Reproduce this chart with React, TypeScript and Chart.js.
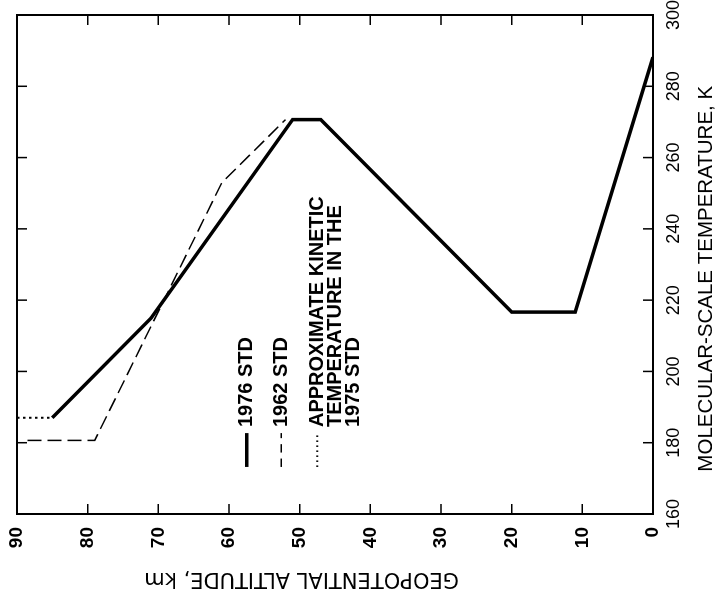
import React, { useEffect, useRef } from "react";
import { Chart, registerables } from "chart.js";

Chart.register(...registerables);

// Axis ticks
const temperatureTicks = [160, 180, 200, 220, 240, 260, 280, 300];
const altitudeTicks = [0, 10, 20, 30, 40, 50, 60, 70, 80, 90];

// 1976 standard (solid)
const altitude1976 = [85, 71, 51, 47, 20, 11, 0];
const temperature1976 = [187, 215, 270.65, 270.65, 216.65, 216.65, 288.15];

// 1962 standard (dashed)
const altitude1962 = [88.5, 79, 61, 52];
const temperature1962 = [180.65, 180.65, 253, 270.65];

// Approximate kinetic temperature (dotted)
const altitudeKinetic = [90, 85];
const temperatureKinetic = [187, 187];

// In-plot key
const legendLabels = [
  ["1976 STD"],
  ["1962 STD"],
  ["APPROXIMATE KINETIC", "TEMPERATURE IN THE", "1975 STD"],
];
const legendAltitudes = [57.5, 52.6, 47.5];
const legendSampleTemps = [173.2, 182.7];
const legendTextTemp = 184.4;

const xTitle = "MOLECULAR-SCALE TEMPERATURE, K";
const yTitle = "GEOPOTENTIAL ALTITUDE, km";

const INK = "#000";

const lineStyles = [
  { width: 3.5, dash: [] as number[] },
  { width: 1.5, dash: [14, 6] },
  { width: 2, dash: [2.5, 3.5] },
];

const framePlugin = {
  id: "frameTicks",
  afterDraw(chart: any) {
    const { ctx, chartArea: a, scales } = chart;
    const xs = scales.x;
    const ys = scales.y;
    ctx.save();
    ctx.strokeStyle = INK;
    ctx.lineWidth = 2;
    ctx.setLineDash([]);
    ctx.strokeRect(a.left, a.top, a.right - a.left, a.bottom - a.top);
    const len = 10;
    ctx.lineWidth = 1.5;
    ctx.beginPath();
    temperatureTicks.forEach((t) => {
      const px = xs.getPixelForValue(t);
      ctx.moveTo(px, a.bottom);
      ctx.lineTo(px, a.bottom - len);
      ctx.moveTo(px, a.top);
      ctx.lineTo(px, a.top + len);
    });
    altitudeTicks.forEach((h) => {
      const py = ys.getPixelForValue(h);
      ctx.moveTo(a.left, py);
      ctx.lineTo(a.left + len, py);
      ctx.moveTo(a.right, py);
      ctx.lineTo(a.right - len, py);
    });
    ctx.stroke();

    // key
    const x0 = xs.getPixelForValue(legendSampleTemps[0]);
    const x1 = xs.getPixelForValue(legendSampleTemps[1]);
    const xt = xs.getPixelForValue(legendTextTemp);
    legendLabels.forEach((lines, i) => {
      const y = ys.getPixelForValue(legendAltitudes[i]);
      const st = lineStyles[i];
      ctx.lineWidth = st.width;
      ctx.setLineDash(st.dash.length ? [st.dash[0] * 0.6, st.dash[1]] : []);
      ctx.beginPath();
      ctx.moveTo(x0, y);
      ctx.lineTo(x1, y);
      ctx.stroke();
      ctx.setLineDash([]);
      ctx.fillStyle = INK;
      ctx.font = "bold 20px 'Liberation Sans', Arial, sans-serif";
      ctx.textAlign = "left";
      ctx.textBaseline = "middle";
      lines.forEach((ln, j) => {
        ctx.fillText(ln, xt, y + j * 18);
      });
    });
    ctx.restore();
  },
};

export default function App() {
  const ref = useRef<HTMLCanvasElement | null>(null);

  useEffect(() => {
    document.documentElement.style.overflow = "hidden";
    const canvas = ref.current;
    if (!canvas) return;
    const mk = (alts: number[], temps: number[]) =>
      alts.map((a, i) => ({ x: temps[i], y: a }));
    const chart = new Chart(canvas, {
      type: "scatter",
      data: {
        datasets: [
          {
            label: "1976 STD",
            data: mk(altitude1976, temperature1976),
            showLine: true,
            borderColor: INK,
            borderWidth: lineStyles[0].width,
            pointRadius: 0,
            borderJoinStyle: "miter",
            tension: 0,
          },
          {
            label: "1962 STD",
            data: mk(altitude1962, temperature1962),
            showLine: true,
            borderColor: INK,
            borderWidth: lineStyles[1].width,
            borderDash: lineStyles[1].dash,
            pointRadius: 0,
            tension: 0,
          },
          {
            label: "APPROXIMATE KINETIC TEMPERATURE IN THE 1975 STD",
            data: mk(altitudeKinetic, temperatureKinetic),
            showLine: true,
            borderColor: INK,
            borderWidth: lineStyles[2].width,
            borderDash: lineStyles[2].dash,
            pointRadius: 0,
            tension: 0,
          },
        ],
      },
      options: {
        responsive: false,
        animation: false,
        devicePixelRatio: 1,
        layout: { padding: { top: 17, right: 15, left: 0, bottom: 0 } },
        plugins: {
          legend: { display: false },
          tooltip: { enabled: false },
        },
        scales: {
          x: {
            type: "linear",
            position: "bottom",
            min: 160,
            max: 300,
            afterBuildTicks: (s: any) => {
              s.ticks = temperatureTicks.map((v) => ({ value: v }));
            },
            afterFit: (s: any) => {
              s.height = 63;
              s.paddingLeft = 0;
              s.paddingRight = 0;
            },
            grid: { display: false, drawTicks: false },
            border: { display: false },
            ticks: {
              color: INK,
              padding: 10,
              maxRotation: 0,
              font: { family: "'Liberation Sans', Arial, sans-serif", size: 18 },
            },
            title: {
              display: true,
              text: xTitle + "     ",
              color: INK,
              padding: { top: 0, bottom: 0 },
              font: {
                family: "'Liberation Sans', Arial, sans-serif",
                size: 20.5,
                lineHeight: 0.9,
              },
            },
          },
          y: {
            type: "linear",
            position: "left",
            min: 0,
            max: 90,
            afterBuildTicks: (s: any) => {
              s.ticks = altitudeTicks.map((v) => ({ value: v }));
            },
            afterFit: (s: any) => {
              s.width = 84;
              s.paddingTop = 0;
              s.paddingBottom = 0;
            },
            grid: { display: false, drawTicks: false },
            border: { display: false },
            ticks: {
              color: INK,
              padding: 13,
              font: {
                family: "'Liberation Sans', Arial, sans-serif",
                size: 19,
                weight: "bold",
              },
            },
            title: {
              display: true,
              text: "          " + yTitle,
              color: INK,
              padding: { top: 7, bottom: 0 },
              font: { family: "'DejaVu Sans', sans-serif", size: 21 },
            },
          },
        },
      },
      plugins: [framePlugin],
    } as any);
    return () => chart.destroy();
  }, []);

  return (
    <div
      style={{
        position: "absolute",
        left: 0,
        top: 0,
        width: 598,
        height: 716,
        transformOrigin: "0 0",
        transform: "translateY(598px) rotate(-90deg)",
        background: "#fff",
      }}
    >
      <canvas ref={ref} width={598} height={716} style={{ display: "block" }} />
    </div>
  );
}
